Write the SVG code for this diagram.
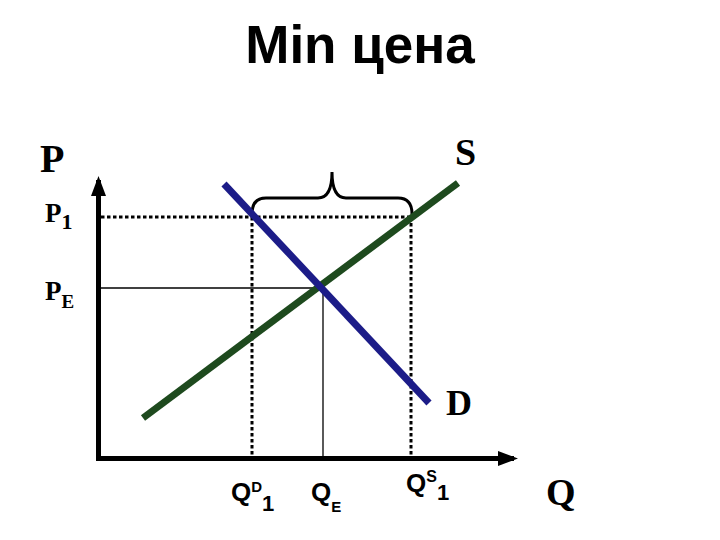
<svg xmlns="http://www.w3.org/2000/svg" width="720" height="540" viewBox="0 0 720 540">
<style>
.serif{font-family:"Liberation Serif","Times New Roman",serif;font-weight:bold;fill:#000}
.sans{font-family:"Liberation Sans",Arial,sans-serif;font-weight:bold;fill:#000}
.dot{stroke:#000;stroke-width:3;stroke-dasharray:3.5 2.5;fill:none}
.thin{stroke:#000;stroke-width:1.3;fill:none}
.axis{stroke:#000;stroke-width:5;fill:none}
</style>
<defs>
<marker id="arr" markerWidth="4" markerHeight="3" refX="3.2" refY="1.5" orient="auto" markerUnits="strokeWidth">
<path d="M0,0 L4,1.5 L0,3 Z" fill="#000"/>
</marker>
</defs>
<rect width="720" height="540" fill="#fff"/>
<text class="sans" x="360" y="63" font-size="53" text-anchor="middle">Min цена</text>
<g id="axes">
<path class="axis" d="M98.5,459 L98.5,180" marker-end="url(#arr)"/>
<path class="axis" d="M96,458.5 L514,458.5" marker-end="url(#arr)"/>
</g>
<g id="connectors">
<path class="dot" d="M101,217 L412,217"/>
<path class="dot" d="M252,217 L252,456"/>
<path class="dot" d="M411,217 L411,456"/>
<path class="thin" d="M101,288 L320,288"/>
<path class="thin" d="M323,288 L323,456"/>
<path d="M252,214 Q252,198 266,198 L318,198 Q332,198 332,172 Q332,198 346,198 L398,198 Q412,198 412,214" fill="none" stroke="#000" stroke-width="3"/>
</g>
<g id="supply">
<line x1="143" y1="418" x2="458" y2="183" stroke="#1e4a1e" stroke-width="7"/>
</g>
<g id="demand">
<line x1="224" y1="184" x2="429" y2="403" stroke="#1c1c88" stroke-width="7"/>
</g>
<g id="labels">
<text class="serif" x="40" y="172" font-size="40">P</text>
<text class="serif" x="455" y="165" font-size="38">S</text>
<text class="serif" x="446" y="415" font-size="36">D</text>
<text class="serif" x="546" y="505" font-size="38">Q</text>
<text class="serif" x="45" y="222" font-size="27">P<tspan font-size="22" dy="7">1</tspan></text>
<text class="serif" x="45" y="300" font-size="27">P<tspan font-size="19" dy="8">E</tspan></text>
<text class="sans" x="231" y="501" font-size="26">Q<tspan font-size="15" dy="-9">D</tspan><tspan font-size="22" dy="19">1</tspan></text>
<text class="sans" x="311" y="501" font-size="26">Q<tspan font-size="15" dy="11">E</tspan></text>
<text class="sans" x="406" y="492" font-size="26">Q<tspan font-size="16" dy="-10">S</tspan><tspan font-size="22" dy="18">1</tspan></text>
</g>
</svg>
